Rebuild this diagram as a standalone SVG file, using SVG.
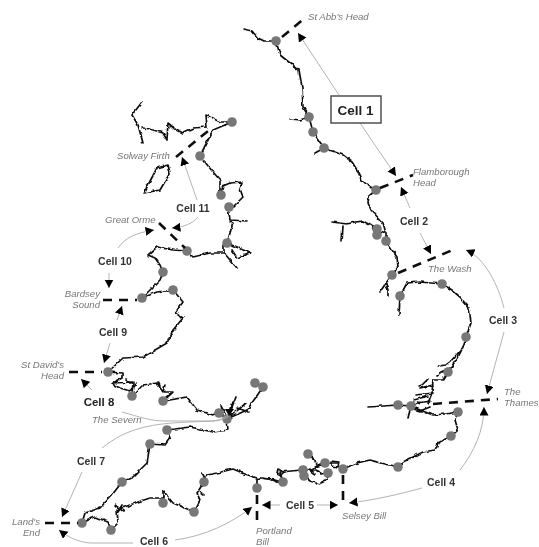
<svg xmlns="http://www.w3.org/2000/svg" width="539" height="547" viewBox="0 0 539 547">
<style>
.coast{fill:none;stroke:#111;stroke-width:1.7;stroke-linejoin:round;stroke-linecap:round}
.dot{fill:#777}
.dash{fill:none;stroke:#111;stroke-width:2.6;stroke-dasharray:9 7}
.c{fill:none;stroke:#aaa;stroke-width:0.9;marker-end:url(#a)}
.n{font:italic 9.6px "Liberation Sans",Arial,sans-serif;fill:#777}
.l{font:bold 10.500px "Liberation Sans",Arial,sans-serif;fill:#333;text-anchor:middle}
.e{text-anchor:end}
</style>
<defs>
<marker id="a" markerUnits="userSpaceOnUse" markerWidth="10" markerHeight="10" refX="8.5" refY="4.5" orient="auto"><path d="M0 0L8.5 4.5L0 9Z" fill="#000"/></marker>
<filter id="b" x="-5%" y="-5%" width="110%" height="110%"><feGaussianBlur stdDeviation="0.35"/></filter>
<filter id="r" filterUnits="userSpaceOnUse" x="0" y="0" width="539" height="547"><feTurbulence type="fractalNoise" baseFrequency="0.18" numOctaves="2" seed="4" result="t"/><feDisplacementMap in="SourceGraphic" in2="t" scale="3.5" xChannelSelector="R" yChannelSelector="G"/><feGaussianBlur stdDeviation="0.35"/></filter>
</defs>
<rect width="539" height="547" fill="#fff"/>
<g id="coast" class="coast" filter="url(#r)">
<path d="M243 29L252 31L258 38L264 41L276 41L280 55L290 63L299 70L302 87L303 107L309 117L313 132L324 148L315 153M309 117L300 120L291 119M324 148L343 155L352 162L357 170L362 180L367 185L376 190L369 196L368 203L371 210L383 223L386 233L386 241L392 250L397 257L398 267L392 275L386 283L380 292M386 285L388 290L388 296M400 296L407 283L420 282L442 284L452 290L460 297L469 308L471 323L466 337L463 347L458 357L448 372L443 380L433 380L432 393L428 403M459 352L450 362L446 365L438 366M452 367L442 372L437 376M332 222L347 224L355 222L363 221L370 225L377 230L386 233M343 226L342 242M400 296L399 315"/>
<path d="M428 379L422 385L419 386M433 385L420 388M433 393L416 395M428 396L414 400M430 401L417 403M369 407L383 406L398 405L411 406L420 410L433 415L445 414L458 412L455 420L458 430L451 436L438 443L435 450L423 452L403 462L398 467L385 464L370 460L357 463L343 469M411 406L408 418M418 402L410 408L420 411L430 407M338 463L325 463L318 466L309 470L303 470L291 471L280 472L283 482L270 479L260 478"/>
<path d="M308 454L315 460L316 467L322 465M315 474L309 470L316 470L322 474L328 473L327 480L319 484L310 481L303 475M331 461L339 462L338 467L331 466ZM278 469L284 472L281 475L277 473Z"/>
<path d="M82 523L85 513L100 508L112 495L122 482L133 477L147 463L150 444L165 445L170 438L167 430L190 427L213 432L228 430L227 419L219 413L213 415L197 410L187 397L170 400L163 401L173 392L163 392L157 383L143 385L132 396L133 382L113 383L122 378L122 373L108 372M227 419L247 410L263 387L255 383M230 412L236 397M237 408L249 412M228 418L245 404M233 402L231 409M221 406L225 414M112 384L120 388L130 391L136 383M126 379L131 383M158 381L160 385M163 392L165 385"/>
<path d="M82 523L95 517L108 522L111 530L118 523L117 510L135 503L150 498L163 498L163 490L168 497L173 503L185 508L194 512L200 500L197 493L204 482L207 475L217 473L233 469L245 474L257 478L257 488M257 478L270 479L280 483M118 512L122 505M115 505L124 512M200 492L204 495M205 478L202 473"/>
<path d="M142 102L132 115L138 125L143 143M143 128L150 129L163 133L167 140L168 123L176 130L182 133L193 128L207 127L206 115L220 122L232 122L213 130L207 142L200 156L213 172L220 180L220 196L223 186L230 183L242 182L240 189L243 197L233 207L228 207L230 220L247 221M230 222L233 223L227 243L250 253L237 258L232 250M224 245L224 253L237 268M224 253L210 253L193 257L187 251L173 250L157 247L148 255L155 258L160 265L163 272L160 280L142 298L157 292L173 290L183 302L175 313L183 318L173 330L167 343L143 357L123 358L108 372"/>
<path d="M168 165L157 168L148 185L144 193L160 190L170 173Z"/>
</g>
<g id="map" filter="url(#b)">
<g id="dots" class="dot">
<circle cx="276" cy="41" r="4.8"/><circle cx="309" cy="117" r="4.8"/><circle cx="313" cy="132" r="4.8"/><circle cx="324" cy="148" r="4.8"/><circle cx="376" cy="190" r="4.8"/><circle cx="377" cy="229" r="4.8"/><circle cx="377" cy="235" r="4.8"/><circle cx="386" cy="241" r="4.8"/><circle cx="392" cy="275" r="4.8"/><circle cx="400" cy="296" r="4.8"/><circle cx="442" cy="284" r="4.8"/><circle cx="466" cy="337" r="4.8"/><circle cx="448" cy="372" r="4.8"/><circle cx="398" cy="405" r="4.8"/><circle cx="411" cy="406" r="4.8"/><circle cx="458" cy="412" r="4.8"/><circle cx="451" cy="436" r="4.8"/><circle cx="398" cy="467" r="4.8"/><circle cx="343" cy="469" r="4.8"/><circle cx="325" cy="463" r="4.8"/><circle cx="308" cy="454" r="4.8"/><circle cx="303" cy="470" r="4.8"/><circle cx="304" cy="476" r="4.8"/><circle cx="328" cy="473" r="4.8"/><circle cx="283" cy="482" r="4.8"/><circle cx="257" cy="488" r="4.8"/><circle cx="204" cy="482" r="4.8"/><circle cx="194" cy="512" r="4.8"/><circle cx="163" cy="503" r="4.8"/><circle cx="111" cy="530" r="4.8"/><circle cx="82" cy="523" r="4.8"/><circle cx="122" cy="482" r="4.8"/><circle cx="150" cy="444" r="4.8"/><circle cx="167" cy="430" r="4.8"/><circle cx="227" cy="419" r="4.8"/><circle cx="219" cy="413" r="4.8"/><circle cx="255" cy="383" r="4.8"/><circle cx="263" cy="387" r="4.8"/><circle cx="163" cy="401" r="4.8"/><circle cx="132" cy="396" r="4.8"/><circle cx="108" cy="372" r="4.8"/><circle cx="142" cy="298" r="4.8"/><circle cx="173" cy="290" r="4.8"/><circle cx="163" cy="272" r="4.8"/><circle cx="187" cy="251" r="4.8"/><circle cx="227" cy="243" r="4.8"/><circle cx="229" cy="207" r="4.8"/><circle cx="221" cy="195" r="4.8"/><circle cx="200" cy="156" r="4.8"/><circle cx="232" cy="122" r="4.8"/>
</g>
<g id="boundaries" class="dash">
<path d="M282 37L305 18"/><path d="M380 188L413 175"/><path d="M398 273L455 249"/><path d="M433 404L498 399"/><path d="M343 475L343 507"/><path d="M257 495L257 527"/><path d="M45 523L78 523"/><path d="M69 372L102 372"/><path d="M103 300L137 300"/><path d="M159 223L185 248"/><path d="M176 157L213 127"/>
</g>
</g>
<g id="connectors" filter="url(#b)">
<path class="c" d="M339 95L298 33"/><path class="c" d="M360 123L396 176"/>
<path class="c" d="M410 208L401 187"/><path class="c" d="M420 233L431 254"/>
<path class="c" d="M504 308C498 285 485 258 466 250"/><path class="c" d="M504 332L487 394"/>
<path class="c" d="M460 470C474 452 484 430 484 407"/><path class="c" d="M422 488C400 494 375 500 349 503"/>
<path class="c" d="M280 505L262 505"/><path class="c" d="M317 505L338 505"/>
<path class="c" d="M133 543L90 543C78 542 68 537 59 530"/><path class="c" d="M175 540C205 536 232 523 252 507"/>
<path class="c" d="M102 448C115 438 125 432 145 427C165 422 195 422 213 421C220 420 224 418 229 414" style="marker-end:none"/><path class="c" d="M82 472L62 517"/>
<path class="c" d="M92 390L81 379"/><path class="c" d="M122 412C140 417 150 421 165 421L213 421C220 421 224 419 229 416" style="marker-end:none"/>
<path d="M225 409L234 409L229 416Z" fill="#000"/>
<path class="c" d="M117 320L122 306"/><path class="c" d="M110 343L104 363"/>
<path class="c" d="M118 248C125 238 135 233 154 230"/><path class="c" d="M109 273L109 288"/>
<path class="c" d="M197 200L182 157"/><path class="c" d="M198 217C192 224 184 227 172 228"/>
</g>
<g id="labels" filter="url(#b)">
<rect x="331" y="96" width="50" height="27" fill="#fff" stroke="#444" stroke-width="1.4"/>
<text x="355.500" y="114.500" style="font:bold 13.5px 'Liberation Sans',Arial,sans-serif;fill:#222;text-anchor:middle">Cell 1</text>
<text class="l" x="414" y="225">Cell 2</text>
<text class="l" x="503" y="324">Cell 3</text>
<text class="l" x="441" y="486">Cell 4</text>
<text class="l" x="300" y="509">Cell 5</text>
<text class="l" x="154" y="545">Cell 6</text>
<text class="l" x="91" y="465">Cell 7</text>
<text x="99" y="406" style="font:bold 11.500px 'Liberation Sans',Arial,sans-serif;fill:#222;text-anchor:middle">Cell 8</text>
<text class="l" x="113" y="336">Cell 9</text>
<text class="l" x="115" y="265">Cell 10</text>
<text class="l" x="193" y="212">Cell 11</text>
<text class="n" x="308" y="20">St Abb's Head</text>
<text class="n" x="413" y="175">Flamborough</text><text class="n" x="413" y="186">Head</text>
<text class="n" x="428" y="272">The Wash</text>
<text class="n" x="504" y="395">The</text><text class="n" x="504" y="406">Thames</text>
<text class="n" x="342" y="519">Selsey Bill</text>
<text class="n" x="256" y="534">Portland</text><text class="n" x="256" y="545">Bill</text>
<text class="n e" x="40" y="525">Land's</text><text class="n e" x="40" y="536">End</text>
<text class="n e" x="64" y="368">St David's</text><text class="n e" x="64" y="379">Head</text>
<text class="n e" x="100" y="297">Bardsey</text><text class="n e" x="100" y="308">Sound</text>
<text class="n" x="105" y="223">Great Orme</text>
<text class="n" x="117" y="159">Solway Firth</text>
<text class="n" x="92" y="423">The Severn</text>
</g>
</svg>
